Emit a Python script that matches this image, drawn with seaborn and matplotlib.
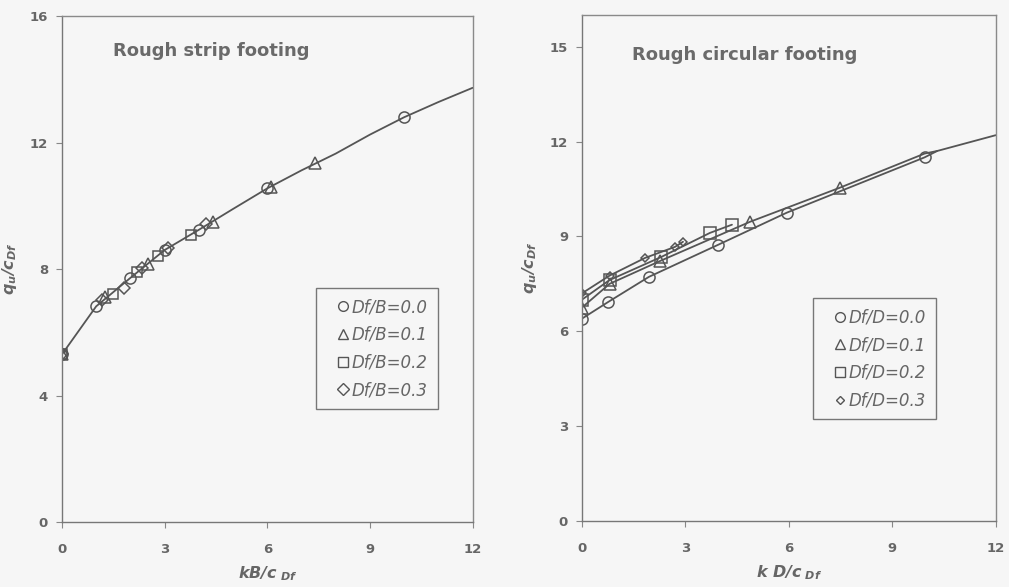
import numpy as np
import pandas as pd
import matplotlib
matplotlib.use("Agg")
import matplotlib.pyplot as plt
from matplotlib.lines import Line2D
import seaborn as sns

# ---------------- data: rough strip footing ----------------
strip_curve_x = [0, 1, 2, 3, 4, 5, 6, 7, 8, 9, 10, 11, 12]
strip_curve_y = [5.3, 6.82, 7.72, 8.6, 9.24, 9.9, 10.55, 11.12, 11.65, 12.25, 12.8, 13.28, 13.73]

strip_c_x = [0, 1.0, 2.0, 3.0, 4.0, 6.0, 10.0]
strip_c_y = [5.3, 6.82, 7.72, 8.6, 9.24, 10.55, 12.8]
strip_t_x = [0, 1.25, 2.5, 4.4, 6.1, 7.4]
strip_t_y = [5.3, 7.12, 8.15, 9.5, 10.6, 11.35]
strip_s_x = [0, 1.5, 2.2, 2.8, 3.77]
strip_s_y = [5.3, 7.2, 7.92, 8.4, 9.08]
strip_d_x = [0, 1.18, 1.8, 2.35, 3.1, 4.2]
strip_d_y = [5.3, 7.03, 7.4, 8.03, 8.68, 9.42]
strip_labels = ["Df/B=0.0", "Df/B=0.1", "Df/B=0.2", "Df/B=0.3"]

# ---------------- data: rough circular footing ----------------
circ_c_x = [0, 0.75, 1.94, 3.94, 5.94, 9.94]
circ_c_y = [6.4, 6.92, 7.72, 8.73, 9.75, 11.5]
circ_c_line_x = [0, 0.75, 1.94, 3.94, 5.94, 9.94, 10.3]
circ_c_line_y = [6.4, 6.92, 7.72, 8.73, 9.75, 11.5, 11.7]

circ_t_x = [0, 0.8, 2.26, 4.87, 7.48]
circ_t_y = [6.75, 7.5, 8.22, 9.46, 10.54]
circ_t_line_x = [0, 0.8, 2.26, 4.87, 7.48, 9.94, 10.3, 12.0]
circ_t_line_y = [6.75, 7.5, 8.22, 9.46, 10.54, 11.62, 11.7, 12.2]

circ_s_x = [0, 0.8, 2.3, 3.71, 4.35]
circ_s_y = [7.0, 7.62, 8.35, 9.11, 9.37]

circ_d_x = [0, 0.8, 1.83, 2.7, 2.93]
circ_d_y = [7.2, 7.76, 8.32, 8.67, 8.83]
circ_labels = ["Df/D=0.0", "Df/D=0.1", "Df/D=0.2", "Df/D=0.3"]

x_ticks = [0, 3, 6, 9, 12]
strip_y_ticks = [0, 4, 8, 12, 16]
circ_y_ticks = [0, 3, 6, 9, 12, 15]

# ---------------- style ----------------
sns.set_theme(style="white")
plt.rcParams["font.family"] = ["DejaVu Sans"]
plt.rcParams["mathtext.fontset"] = "custom"
plt.rcParams["mathtext.it"] = "DejaVu Sans:italic:bold"
plt.rcParams["mathtext.rm"] = "DejaVu Sans:bold"
plt.rcParams["mathtext.bf"] = "DejaVu Sans:bold"

BG = "#f6f6f6"
INK = "#555555"
TXT = "#666666"

fig = plt.figure(figsize=(10.09, 5.87), dpi=100, facecolor=BG)
ax1 = fig.add_axes([0.0614, 0.1107, 0.407, 0.862])
ax2 = fig.add_axes([0.5768, 0.1124, 0.410, 0.862])

markers = ["o", "^", "s", "D"]


def draw_line(ax, xs, ys):
    sns.lineplot(x=xs, y=ys, ax=ax, color=INK, linewidth=1.3, sort=False,
                 estimator=None, legend=False)


def draw_marks(ax, xs, ys, m, ms):
    sns.lineplot(x=xs, y=ys, ax=ax, linestyle="none", marker=m, markersize=ms,
                 markerfacecolor="none", markeredgecolor=INK, markeredgewidth=1.1,
                 sort=False, estimator=None, legend=False)


# strip
draw_line(ax1, strip_curve_x, strip_curve_y)
strip_sets = [(strip_c_x, strip_c_y), (strip_t_x, strip_t_y),
              (strip_s_x, strip_s_y), (strip_d_x, strip_d_y)]
strip_sizes = [8, 8, 7.5, 6.5]
for (xs, ys), m, ms in zip(strip_sets, markers, strip_sizes):
    draw_marks(ax1, xs, ys, m, ms)

# circular
for xs, ys in [(circ_c_line_x, circ_c_line_y), (circ_t_line_x, circ_t_line_y),
               (circ_s_x, circ_s_y), (circ_d_x, circ_d_y)]:
    draw_line(ax2, xs, ys)
circ_sets = [(circ_c_x, circ_c_y), (circ_t_x, circ_t_y),
             (circ_s_x, circ_s_y), (circ_d_x, circ_d_y)]
circ_sizes = [8, 8, 8, 4.5]
for (xs, ys), m, ms in zip(circ_sets, markers, circ_sizes):
    draw_marks(ax2, xs, ys, m, ms)


def style_axes(ax, yticks, xlabel, title, tx, ty, labels, leg_xy, leg_sizes):
    ax.set_facecolor(BG)
    ax.set_xlim(0, 12)
    ax.set_ylim(0, 16)
    ax.set_xticks(x_ticks)
    ax.set_yticks(yticks)
    ax.tick_params(axis="both", which="both", direction="out", length=4, width=0.8,
                   color="#888888", labelsize=9.5, labelcolor=TXT, left=True, bottom=True)
    ax.tick_params(axis="x", pad=11)
    ax.tick_params(axis="y", pad=6)
    for lbl in ax.get_xticklabels() + ax.get_yticklabels():
        lbl.set_fontweight("bold")
    for s in ax.spines.values():
        s.set_visible(True)
        s.set_color("#8a8a8a")
        s.set_linewidth(1.0)
    ax.spines["left"].set_color("#777777")
    ax.spines["bottom"].set_color("#777777")
    ax.set_xlabel(xlabel, fontsize=11.5, color=TXT, labelpad=6,
                  fontstyle="italic", fontweight="bold")
    ax.set_ylabel(r"q$_u$/c$_{Df}$", fontsize=11.5, color=TXT, labelpad=8,
                  fontstyle="italic", fontweight="bold")
    ax.text(tx, ty, title, fontsize=13, fontweight="bold", color="#6a6a6a",
            ha="left", va="center")
    handles = [Line2D([], [], linestyle="none", marker=m, markersize=s,
                      markerfacecolor="none", markeredgecolor=INK, markeredgewidth=1.0)
               for m, s in zip(markers, leg_sizes)]
    leg = ax.legend(handles, labels, loc="upper left", bbox_to_anchor=leg_xy,
                    frameon=True, fancybox=False, framealpha=1, facecolor=BG,
                    edgecolor="#777777", handlelength=2.1, handletextpad=-0.55,
                    labelspacing=0.58, borderpad=0.6, borderaxespad=0,
                    prop={"style": "italic", "size": 12})
    leg.get_frame().set_linewidth(1.0)
    for t in leg.get_texts():
        t.set_color(TXT)


style_axes(ax1, strip_y_ticks, r"kB/c$_{\ Df}$", "Rough strip footing",
           1.5, 14.9, strip_labels, (0.618, 0.462), [7, 7, 7, 6])
style_axes(ax2, circ_y_ticks, r"k D/c$_{\ Df}$", "Rough circular footing",
           1.45, 14.75, circ_labels, (0.558, 0.44), [7, 7, 7, 4])

fig.savefig("out.png", dpi=100, facecolor=BG)
